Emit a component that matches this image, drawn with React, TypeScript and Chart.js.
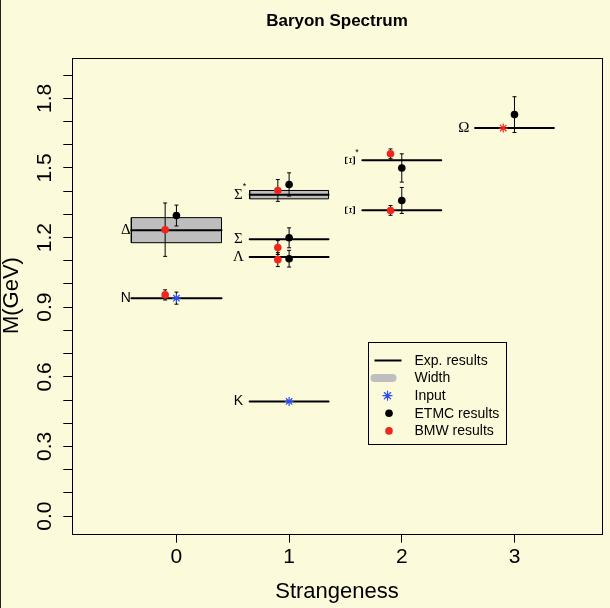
import React, { useEffect, useRef } from 'react';
import { Chart, registerables } from 'chart.js';

Chart.register(...registerables);

// ---- text ----
const TITLE = 'Baryon Spectrum';
const X_TITLE = 'Strangeness';
const Y_TITLE = 'M(GeV)';

// ---- axes ----
const XLIM = [-0.75, 3.6];
const YLIM = [0, 1.9];
const X_TICKS = [0, 1, 2, 3];
const Y_TICKS = [0, 0.1, 0.2, 0.3, 0.4, 0.5, 0.6, 0.7, 0.8, 0.9, 1.0, 1.1, 1.2, 1.3, 1.4, 1.5, 1.6, 1.7, 1.8, 1.9];
const Y_TICK_LABELS = ['0.0', '', '', '0.3', '', '', '0.6', '', '', '0.9', '', '', '1.2', '', '', '1.5', '', '', '1.8', ''];

// ---- experimental results ----
const EXP_NAMES = ['N', 'Δ', 'Λ', 'Σ', 'Σ*', 'Ξ', 'Ξ*', 'Ω', 'K'];
const EXP_S = [0, 0, 1, 1, 1, 2, 2, 3, 1];
const EXP_MASS = [0.939, 1.232, 1.116, 1.193, 1.385, 1.318, 1.533, 1.672, 0.494];
const EXP_FROM = [-0.4, -0.4, 0.65, 0.65, 0.65, 1.65, 1.65, 2.65, 0.65];
const EXP_TO = [0.4, 0.4, 1.35, 1.35, 1.35, 2.35, 2.35, 3.35, 1.35];
const LABEL_SHIFT = -0.45;

// ---- widths ----
const WIDTH_NAMES = ['Δ', 'Σ*'];
const WIDTH_VALUES = [0.108, 0.036];

// ---- input ----
const INPUT_S = [0, 1];
const INPUT_M = [0.939, 0.494];
const INPUT_ERR = [0.026, 0];

// ---- ETMC ----
const ETMC_S = [0, 1, 1, 1, 2, 2, 3];
const ETMC_M = [1.295, 1.109, 1.199, 1.429, 1.36, 1.5, 1.73];
const ETMC_ERR = [0.045, 0.036, 0.043, 0.05, 0.056, 0.061, 0.077];

// ---- BMW ----
const BMW_X = [-0.1, -0.1, 0.9, 0.9, 0.9, 1.9, 1.9];
const BMW_M = [0.953, 1.234, 1.105, 1.157, 1.403, 1.317, 1.561];
const BMW_ERR = [0.022, 0.115, 0.03, 0.03, 0.047, 0.021, 0.021];
const BMW_INPUT_X = [2.9];
const BMW_INPUT_M = [1.672];

// ---- legend ----
const LEGEND_LABELS = ['Exp. results', 'Width', 'Input', 'ETMC results', 'BMW results'];
const LEGEND_AT = [1.7, 0.75];

// ---- style ----
const BG = '#FBFADB';
const GRAY = '#BEBEBE';
const RED = '#F0261C';
const BLUE = '#2A4BF5';
const SANS = '"Liberation Sans", Arial, sans-serif';
const SERIF = '"Liberation Serif", "DejaVu Serif", serif';

function extend(lim: number[]) {
  const r = lim[1] - lim[0];
  return [lim[0] - 0.04 * r, lim[1] + 0.04 * r];
}

function drawStar(ctx: CanvasRenderingContext2D, x: number, y: number, r: number, color: string) {
  ctx.save();
  ctx.strokeStyle = color;
  ctx.lineWidth = 1.2;
  ctx.beginPath();
  ctx.moveTo(x - r, y); ctx.lineTo(x + r, y);
  ctx.moveTo(x, y - r); ctx.lineTo(x, y + r);
  const d = r * Math.SQRT1_2;
  ctx.moveTo(x - d, y - d); ctx.lineTo(x + d, y + d);
  ctx.moveTo(x - d, y + d); ctx.lineTo(x + d, y - d);
  ctx.stroke();
  ctx.restore();
}

const backgroundPlugin = {
  id: 'bg',
  beforeDraw(chart: any) {
    const { ctx, width, height } = chart;
    ctx.save();
    ctx.fillStyle = BG;
    ctx.fillRect(0, 0, width, height);
    ctx.fillStyle = '#222';
    ctx.fillRect(0, 0, 1, height);
    ctx.restore();
  },
};

const framePlugin = {
  id: 'frame',
  afterDatasetsDraw(chart: any) {
    const { ctx, chartArea: a } = chart;
    ctx.save();
    ctx.strokeStyle = '#000';
    ctx.lineWidth = 1;
    const l = Math.round(a.left) + 0.5, t = Math.round(a.top) + 0.5;
    const r = Math.round(a.right) + 0.5, b = Math.round(a.bottom) + 0.5;
    ctx.strokeRect(l, t, r - l, b - t);
    ctx.restore();
  },
};

const labelsPlugin = {
  id: 'expLabels',
  afterDatasetsDraw(chart: any) {
    const { ctx } = chart;
    const xs = chart.scales.x, ys = chart.scales.y;
    ctx.save();
    ctx.fillStyle = '#000';
    ctx.textAlign = 'center';
    ctx.textBaseline = 'middle';
    EXP_NAMES.forEach((name, k) => {
      const px = xs.getPixelForValue(EXP_S[k] + LABEL_SHIFT);
      const py = ys.getPixelForValue(EXP_MASS[k]);
      const star = name.endsWith('*');
      const base = star ? name.slice(0, -1) : name;
      const latin = /^[A-Za-z]+$/.test(base);
      ctx.font = latin ? `14px ${SANS}` : `15px ${SERIF}`;
      if (base === 'Ξ') {
        ctx.save();
        ctx.translate(px, py);
        ctx.rotate(-Math.PI / 2);
        ctx.fillText(base, 0, 0);
        ctx.restore();
      } else {
        ctx.fillText(base, px, py);
      }
      if (star) {
        ctx.font = `9px ${SANS}`;
        ctx.fillText('*', px + 6, py - 8);
      }
    });
    ctx.restore();
  },
};

const legendPlugin = {
  id: 'customLegend',
  afterDraw(chart: any) {
    const { ctx } = chart;
    const xs = chart.scales.x, ys = chart.scales.y;
    const left = Math.round(xs.getPixelForValue(LEGEND_AT[0])) + 0.5;
    const top = Math.round(ys.getPixelForValue(LEGEND_AT[1])) + 0.5;
    const w = 138, h = 102;
    ctx.save();
    ctx.strokeStyle = '#000';
    ctx.lineWidth = 1;
    ctx.strokeRect(left, top, w, h);
    const symX = left + 19;
    LEGEND_LABELS.forEach((label, i) => {
      const y = top + 18 + i * 17.6;
      if (i === 0) {
        ctx.strokeStyle = '#000';
        ctx.lineWidth = 2;
        ctx.lineCap = 'butt';
        ctx.beginPath();
        ctx.moveTo(left + 6, y); ctx.lineTo(left + 33, y);
        ctx.stroke();
      } else if (i === 1) {
        ctx.strokeStyle = GRAY;
        ctx.lineWidth = 8;
        ctx.lineCap = 'round';
        ctx.beginPath();
        ctx.moveTo(left + 6, y); ctx.lineTo(left + 24, y);
        ctx.stroke();
      } else if (i === 2) {
        drawStar(ctx, symX, y, 4.5, BLUE);
      } else {
        ctx.fillStyle = i === 3 ? '#000' : RED;
        ctx.beginPath();
        ctx.arc(symX + 1.5, y, 3.8, 0, Math.PI * 2);
        ctx.fill();
      }
      ctx.fillStyle = '#000';
      ctx.font = `14px ${SANS}`;
      ctx.textAlign = 'left';
      ctx.textBaseline = 'middle';
      ctx.fillText(label, left + 46, y + 0.5);
    });
    ctx.restore();
  },
};

export default function App() {
  const ref = useRef<HTMLCanvasElement>(null);

  useEffect(() => {
    document.body.style.margin = '0';
    document.body.style.background = BG;
    const [xmin, xmax] = extend(XLIM);
    const [ymin, ymax] = extend(YLIM);

    const datasets: any[] = [];

    WIDTH_NAMES.forEach((name, i) => {
      const k = EXP_NAMES.indexOf(name);
      const lo = EXP_MASS[k] - WIDTH_VALUES[i] / 2;
      const hi = EXP_MASS[k] + WIDTH_VALUES[i] / 2;
      const a = EXP_FROM[k], b = EXP_TO[k];
      datasets.push({
        type: 'line',
        data: [{ x: a, y: lo }, { x: b, y: lo }, { x: b, y: hi }, { x: a, y: hi }, { x: a, y: lo }],
        borderColor: '#000', borderWidth: 1, backgroundColor: GRAY, fill: 'shape',
        pointRadius: 0, tension: 0, order: 10,
      });
    });

    EXP_NAMES.forEach((_, k) => {
      datasets.push({
        type: 'line',
        data: [{ x: EXP_FROM[k], y: EXP_MASS[k] }, { x: EXP_TO[k], y: EXP_MASS[k] }],
        borderColor: '#000', borderWidth: 2, borderCapStyle: 'round', fill: false,
        pointRadius: 0, order: 9,
      });
    });

    const addErrors = (xs: number[], ms: number[], es: number[]) => {
      xs.forEach((x, i) => {
        if (!es[i]) return;
        datasets.push({
          type: 'line',
          data: [{ x, y: ms[i] - es[i] }, { x, y: ms[i] + es[i] }],
          borderColor: '#000', borderWidth: 1, fill: false,
          pointStyle: 'line', pointRadius: 2, pointBorderColor: '#000', pointBorderWidth: 1,
          order: 8,
        });
      });
    };
    addErrors(INPUT_S, INPUT_M, INPUT_ERR);
    addErrors(ETMC_S, ETMC_M, ETMC_ERR);
    addErrors(BMW_X, BMW_M, BMW_ERR);

    datasets.push({
      type: 'scatter', label: 'Input',
      data: INPUT_S.map((x, i) => ({ x, y: INPUT_M[i] })),
      pointStyle: 'star', pointRadius: 4.5, pointBorderColor: BLUE, pointBorderWidth: 1.2, order: 2,
    });
    datasets.push({
      type: 'scatter', label: 'ETMC results',
      data: ETMC_S.map((x, i) => ({ x, y: ETMC_M[i] })),
      pointStyle: 'circle', pointRadius: 3.8, pointBackgroundColor: '#000', pointBorderWidth: 0, order: 1,
    });
    datasets.push({
      type: 'scatter', label: 'BMW results',
      data: BMW_X.map((x, i) => ({ x, y: BMW_M[i] })),
      pointStyle: 'circle', pointRadius: 3.8, pointBackgroundColor: RED, pointBorderWidth: 0, order: 1,
    });
    datasets.push({
      type: 'scatter', label: 'BMW input',
      data: BMW_INPUT_X.map((x, i) => ({ x, y: BMW_INPUT_M[i] })),
      pointStyle: 'star', pointRadius: 4.5, pointBorderColor: RED, pointBorderWidth: 1.2, order: 2,
    });

    const chart = new Chart(ref.current as HTMLCanvasElement, {
      type: 'scatter',
      data: { datasets },
      options: {
        animation: false,
        responsive: false,
        devicePixelRatio: 1,
        events: [],
        layout: { padding: { left: 0, right: 8.3, top: 0, bottom: 0 } },
        plugins: {
          legend: { display: false },
          tooltip: { enabled: false },
          title: {
            display: true, text: TITLE, color: '#000', fullSize: false,
            font: { family: SANS, size: 17, weight: 'bold', lineHeight: 1.2 },
            padding: { top: 11, bottom: 26.1 },
          },
        },
        scales: {
          x: {
            type: 'linear', min: xmin, max: xmax,
            afterBuildTicks: (s: any) => { s.ticks = X_TICKS.map((v) => ({ value: v })); },
            afterFit: (s: any) => { s.height = 74.3; },
            grid: { display: true, drawOnChartArea: false, drawTicks: true, tickLength: 9, color: '#000', lineWidth: 1 },
            border: { display: false },
            ticks: {
              autoSkip: false, maxRotation: 0, minRotation: 0, padding: 2, color: '#000',
              font: { family: SANS, size: 21 },
              callback: (v: any) => String(v),
            },
            title: {
              display: true, text: X_TITLE, color: '#000',
              font: { family: SANS, size: 22, lineHeight: 1 },
              padding: { top: 0, bottom: 5 },
            },
          },
          y: {
            type: 'linear', min: ymin, max: ymax,
            afterBuildTicks: (s: any) => { s.ticks = Y_TICKS.map((v) => ({ value: v })); },
            afterFit: (s: any) => { s.width = 72.3; },
            grid: { display: true, drawOnChartArea: false, drawTicks: true, tickLength: 9, color: '#000', lineWidth: 1 },
            border: { display: false },
            ticks: {
              autoSkip: false, minRotation: 90, maxRotation: 90, crossAlign: 'center', padding: 4,
              color: '#000', font: { family: SANS, size: 21 },
              callback: (_v: any, i: number) => Y_TICK_LABELS[i],
            },
            title: {
              display: true, text: Y_TITLE, color: '#000',
              font: { family: SANS, size: 22, lineHeight: 1 },
              padding: { top: 1, bottom: 0 },
            },
          },
        },
      } as any,
      plugins: [backgroundPlugin, framePlugin, labelsPlugin, legendPlugin],
    });
    return () => chart.destroy();
  }, []);

  return <canvas ref={ref} width={610} height={608} style={{ display: 'block' }} />;
}
